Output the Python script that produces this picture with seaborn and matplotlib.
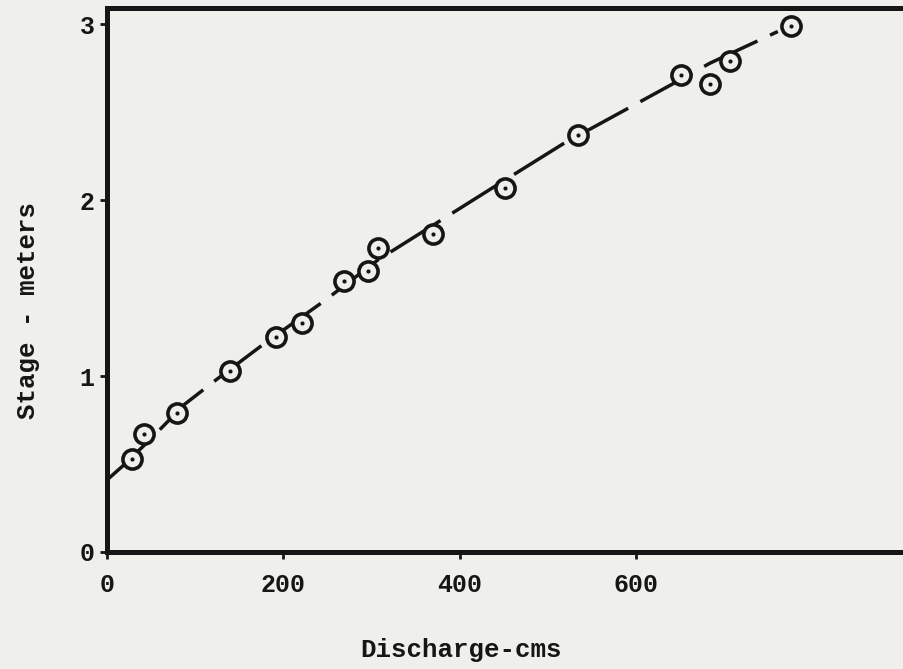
import numpy as np
import pandas as pd
import seaborn as sns
from matplotlib import pyplot as plt

# measured points (discharge cms, stage m)
discharge = [28, 42, 79, 140, 192, 221, 269, 296, 307, 370, 452, 534, 651, 684, 707, 776]
stage = [0.53, 0.67, 0.79, 1.03, 1.22, 1.30, 1.54, 1.60, 1.73, 1.81, 2.07, 2.37, 2.71, 2.66, 2.79, 2.99]

# rating curve
curve_q = [0, 18, 49, 88, 124, 177, 247, 307, 437, 517, 641, 684, 761]
curve_h = [0.41, 0.49, 0.64, 0.84, 0.98, 1.18, 1.43, 1.66, 2.07, 2.32, 2.66, 2.78, 2.96]

xticks = [0, 200, 400, 600]
yticks = [0, 1, 2, 3]

pts = pd.DataFrame({'q': discharge, 'h': stage})
crv = pd.DataFrame({'q': curve_q, 'h': curve_h})

sns.set_style('ticks')
plt.rcParams['font.family'] = ['Liberation Mono', 'DejaVu Sans Mono']
paper = '#efefec'
ink = '#161616'

fig = plt.figure(figsize=(9.04, 6.69), dpi=100, facecolor=paper)
ax = fig.add_axes([0.1184, 0.1749, 0.899, 0.8132])
ax.set_facecolor(paper)

sns.lineplot(data=crv, x='q', y='h', ax=ax, color=ink, lw=2.5,
             linestyle=(0, (17, 4)), sort=False)
sns.scatterplot(data=pts, x='q', y='h', ax=ax, s=190, marker='o',
                facecolor=paper, edgecolor=ink, linewidth=2.6, zorder=3)
sns.scatterplot(data=pts, x='q', y='h', ax=ax, s=9, marker='o',
                color=ink, linewidth=0, zorder=4)

ax.set_xlim(0, 922)
ax.set_ylim(0, 3.094)
ax.set_xticks(xticks)
ax.set_yticks(yticks)
ax.tick_params(axis='both', labelsize=18, width=2, length=5, colors=ink)
ax.tick_params(axis='x', pad=10)
ax.tick_params(axis='y', pad=4)
for lab in ax.get_xticklabels() + ax.get_yticklabels():
    lab.set_fontweight('bold')

for side in ['left', 'bottom', 'top']:
    ax.spines[side].set_linewidth(3.6)
    ax.spines[side].set_color(ink)
ax.spines['right'].set_visible(False)

ax.set_xlabel('Discharge-cms', fontsize=18.5, color=ink, fontweight='bold')
ax.set_ylabel('Stage - meters', fontsize=18.5, color=ink, fontweight='bold')
ax.xaxis.set_label_coords(0.435, -0.18)
ax.xaxis.label.set_va('center')
ax.yaxis.set_label_coords(-0.097, 0.443)
ax.yaxis.label.set_va('center')

fig.savefig('out.png', dpi=100, facecolor=paper)
